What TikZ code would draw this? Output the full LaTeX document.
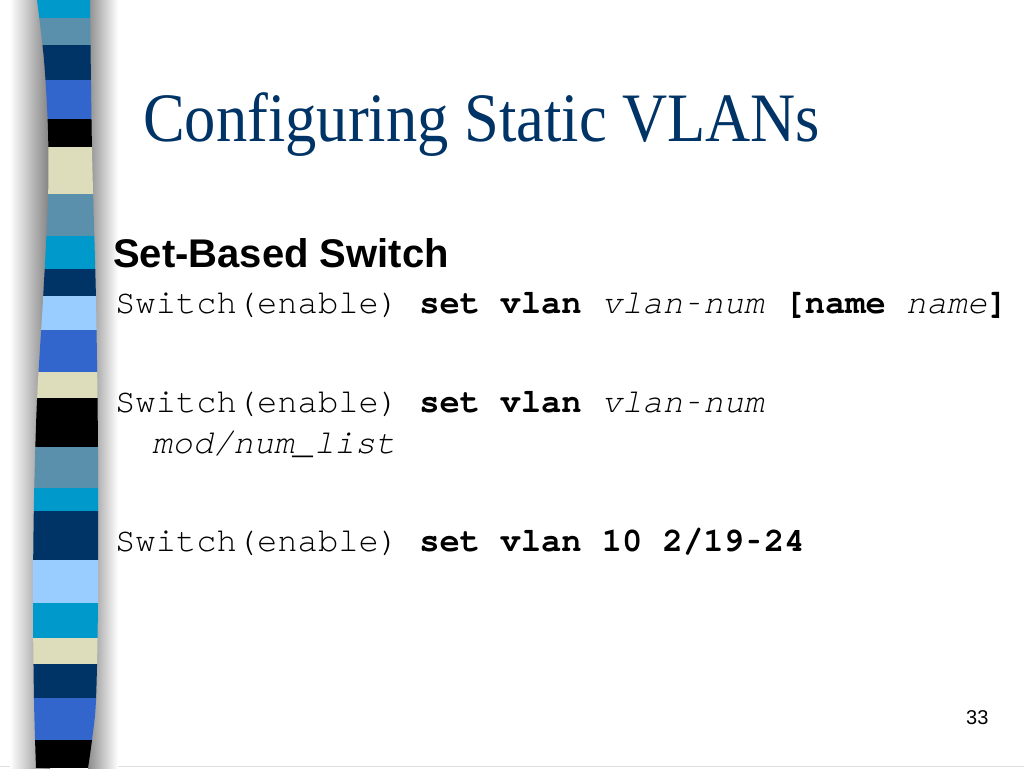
\documentclass[tikz,border=0pt]{standalone}
\usepackage{fontspec}
\setmainfont{Liberation Serif}
\setsansfont{Liberation Sans}
\setmonofont{texgyrecursor-regular.otf}[BoldFont=texgyrecursor-bold.otf, ItalicFont=texgyrecursor-italic.otf, BoldItalicFont=texgyrecursor-bolditalic.otf]
\newcommand{\codehy}{\makebox[0.6em]{\scalebox{0.6}[1]{-}}}
\definecolor{titleblue}{HTML}{003366}
\definecolor{barcyan}{HTML}{0099CC}
\definecolor{barsteel}{HTML}{5A90AC}
\definecolor{barnavy}{HTML}{003366}
\definecolor{barroyal}{HTML}{3366CC}
\definecolor{barbeige}{HTML}{DDDDBB}
\definecolor{barlight}{HTML}{99CCFF}
\begin{document}
\begin{tikzpicture}[x=1pt, y=-1pt,
    every node/.style={inner sep=0pt, anchor=base west},
    codeline/.style={font=\fontsize{33.8}{40}\selectfont\ttfamily}]
    % Fond de la diapositive
    \useasboundingbox (0,0) rectangle (1024,768);
    \fill[white] (0,0) rectangle (1024,768);
    \draw[gray!25] (0,766.5) -- (1024,766.5);

    % Ombre de la barre
    \shade[left color=white, right color=black!50] (10,0) rectangle (50,768);
    \shade[left color=black!45, right color=white] (88,0) rectangle (118,768);

    % Barre de bandes colorées
    \begin{scope}
        \clip plot[smooth] coordinates {(37,0) (44,60) (48,130) (48,200) (43,300) (37,400) (34,500) (33,600) (34,700) (36,768)}
            -- plot[smooth] coordinates {(88,768) (92,740) (96,700) (98,600) (98,450) (96,300) (92,150) (90,0)} -- cycle;
        \foreach \ya/\yb/\c in {0/18/barcyan, 18/45/barsteel, 45/80/barnavy, 80/119/barroyal,
            119/147/black, 147/194/barbeige, 194/236/barsteel, 236/269/barcyan, 269/296/barnavy,
            296/330/barlight, 330/372/barroyal, 372/398/barbeige, 398/447/black, 447/488/barsteel,
            488/511/barcyan, 511/560/barnavy, 560/603/barlight, 603/638/barcyan, 638/664/barbeige,
            664/698/barnavy, 698/740/barroyal, 740/768/black}
            \fill[\c] (20,\ya) rectangle (110,\yb);
    \end{scope}

    % Titre
    \node[titleblue, font=\fontsize{62.5}{70}\selectfont] (title) at (143,141) {\scalebox{1}[1.11]{Configuring Static VLANs}};

    % Sous-titre
    \node[font=\fontsize{40}{46}\selectfont\sffamily\bfseries] (heading) at (113,267) {Set-Based Switch};

    % Lignes de commande
    \node[codeline] (cmdname) at (115,313) {Switch(enable) \textbf{set vlan} \textit{vlan\codehy num} \textbf{[name} \textit{name}\textbf{]}};
    \node[codeline] (cmdports) at (115,412) {Switch(enable) \textbf{set vlan} \textit{vlan\codehy num}};
    \node[codeline] (cmdlist) at (152,453) {\textit{mod/num\_list}};
    \node[codeline] (cmdex) at (115,551) {Switch(enable) \textbf{set vlan 10 2/19\codehy 24}};

    % Numéro de page
    \node[font=\fontsize{20}{24}\selectfont\sffamily] (page) at (966,724) {33};
\end{tikzpicture}
\end{document}
